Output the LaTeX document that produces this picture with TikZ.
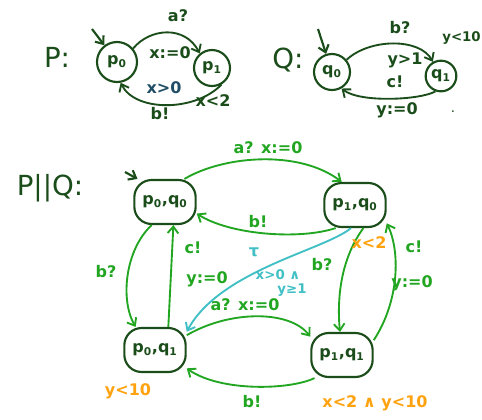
\documentclass[tikz,border=0pt]{standalone}
\usepackage{fontspec}
\setmainfont{DejaVu Sans}
\usetikzlibrary{arrows.meta}
\definecolor{dkg}{HTML}{1B4D1B}
\definecolor{brg}{HTML}{22A622}
\definecolor{cyn}{HTML}{40BFC4}
\definecolor{org}{HTML}{FFA20F}
\definecolor{blu}{HTML}{1F4E66}
\newcommand{\sbs}[1]{\textsubscript{#1}}
\begin{document}
\begin{tikzpicture}[x=0.75pt,y=-0.75pt,
  st/.style={draw=dkg,line width=1.6pt,circle,inner sep=0pt,text=dkg,font=\large\bfseries},
  ps/.style={draw=dkg,line width=1.6pt,rounded corners=13pt,minimum width=46pt,minimum height=33pt,inner sep=1pt,text=dkg,font=\large\bfseries},
  ed/.style={line width=1.4pt,-{Straight Barb[length=5pt,width=8pt]}},
  lbl/.style={font=\large\bfseries},
  sm/.style={font=\large\bfseries}]
\useasboundingbox (0,0) rectangle (482,419);
% ---- P ----
\node[text=dkg,font=\huge] (lP) at (57,57) {P:};
\node[st,minimum size=30pt] (p0) at (117,62) {p\sbs{0}};
\node[st,minimum size=27pt] (p1) at (212,68) {p\sbs{1}};
\coordinate (sp) at (92,29);
\draw[ed,draw=dkg,line width=1.6pt] (sp) -- (p0);
\draw[ed,draw=dkg] (p0.40) .. controls (150,28) and (185,25) .. (p1.130);
\draw[ed,draw=dkg] (p1.-60) .. controls (195,112) and (135,112) .. (p0.-80);
\node[lbl,text=dkg] (la) at (178,16) {a?};
\node[lbl,text=dkg] (lx) at (170,53) {x:=0};
\node[lbl,text=blu] (lg) at (164,88) {x>0};
\node[lbl,text=dkg] (lb) at (160,114) {b!};
\node[lbl,text=dkg] (li) at (213,101) {x<2};
% ---- Q ----
\node[text=dkg,font=\huge] (lQ) at (288,60) {Q:};
\node[st,minimum size=27pt] (q0) at (332,72) {q\sbs{0}};
\node[st,minimum size=23pt] (q1) at (441,76) {q\sbs{1}};
\coordinate (sq) at (318,29);
\draw[ed,draw=dkg,line width=1.6pt] (sq) -- (q0);
\draw[ed,draw=dkg] (q0.40) .. controls (370,38) and (420,38) .. (q1.120);
\draw[ed,draw=dkg] (q1.-110) .. controls (420,100) and (360,103) .. (q0.-60);
\node[lbl,text=dkg] (lbq) at (400,28) {b?};
\node[lbl,text=dkg] (lyq) at (405,60) {y>1};
\node[lbl,text=dkg] (lcq) at (395,82) {c!};
\node[lbl,text=dkg] (lrq) at (397,110) {y:=0};
\node[font=\bfseries,text=dkg,anchor=east,inner sep=0pt] (liq) at (481,38) {y<10};
\node[text=dkg] (dot) at (453,112) {.};
% ---- P||Q ----
\node[text=dkg,font=\huge] (lPQ) at (50,188) {P||Q:};
\node[ps] (a) at (165,202) {p\sbs{0},q\sbs{0}};
\node[ps] (b) at (355,205) {p\sbs{1},q\sbs{0}};
\node[ps] (c) at (155,350) {p\sbs{0},q\sbs{1}};
\node[ps] (d) at (342,355) {p\sbs{1},q\sbs{1}};
\coordinate (sa) at (125,172);
\draw[ed,draw=dkg,line width=1.6pt] (sa) -- (a.140);
\draw[ed,draw=brg] (a.50) .. controls (225,155) and (300,150) .. (b.120);
\node[sm,text=brg] (l1) at (268,148) {a? x:=0};
\draw[ed,draw=brg] (b.-130) .. controls (300,240) and (230,235) .. (a.-20);
\node[sm,text=brg] (l2) at (258,222) {b!};
\draw[ed,draw=brg] (a.-120) .. controls (125,250) and (120,300) .. (c.130);
\node[sm,text=brg] (l3) at (106,272) {b?};
\draw[ed,draw=brg] (c.60) -- (a.-70);
\node[sm,text=brg] (l4) at (193,248) {c!};
\node[sm,text=brg] (l5) at (207,279) {y:=0};
\draw[ed,draw=cyn] (b.-100) .. controls (325,250) and (220,270) .. (c.30);
\node[lbl,text=cyn] (l6) at (254,252) {τ};
\node[font=\bfseries,text=cyn] (l7) at (278,275) {x>0 ∧};
\node[font=\bfseries,text=cyn] (l8) at (292,290) {y≥1};
\draw[ed,draw=brg] (b.-70) .. controls (340,260) and (337,300) .. (d.95);
\node[sm,text=brg] (l9) at (322,265) {b?};
\draw[ed,draw=brg] (d.25) .. controls (400,300) and (400,250) .. (b.-30);
\node[sm,text=org] (l10) at (369,243) {x<2};
\node[sm,text=brg] (l11) at (414,247) {c!};
\node[sm,text=brg] (l12) at (412,283) {y:=0};
\draw[ed,draw=brg] (c.25) .. controls (230,310) and (290,310) .. (d.150);
\node[sm,text=brg] (l13) at (245,305) {a? x:=0};
\draw[ed,draw=brg] (d.-140) .. controls (290,390) and (220,392) .. (c.-30);
\node[sm,text=brg] (l14) at (252,402) {b!};
\node[lbl,text=org] (l15) at (128,391) {y<10};
\node[lbl,text=org] (l16) at (375,403) {x<2 ∧ y<10};
\end{tikzpicture}
\end{document}
